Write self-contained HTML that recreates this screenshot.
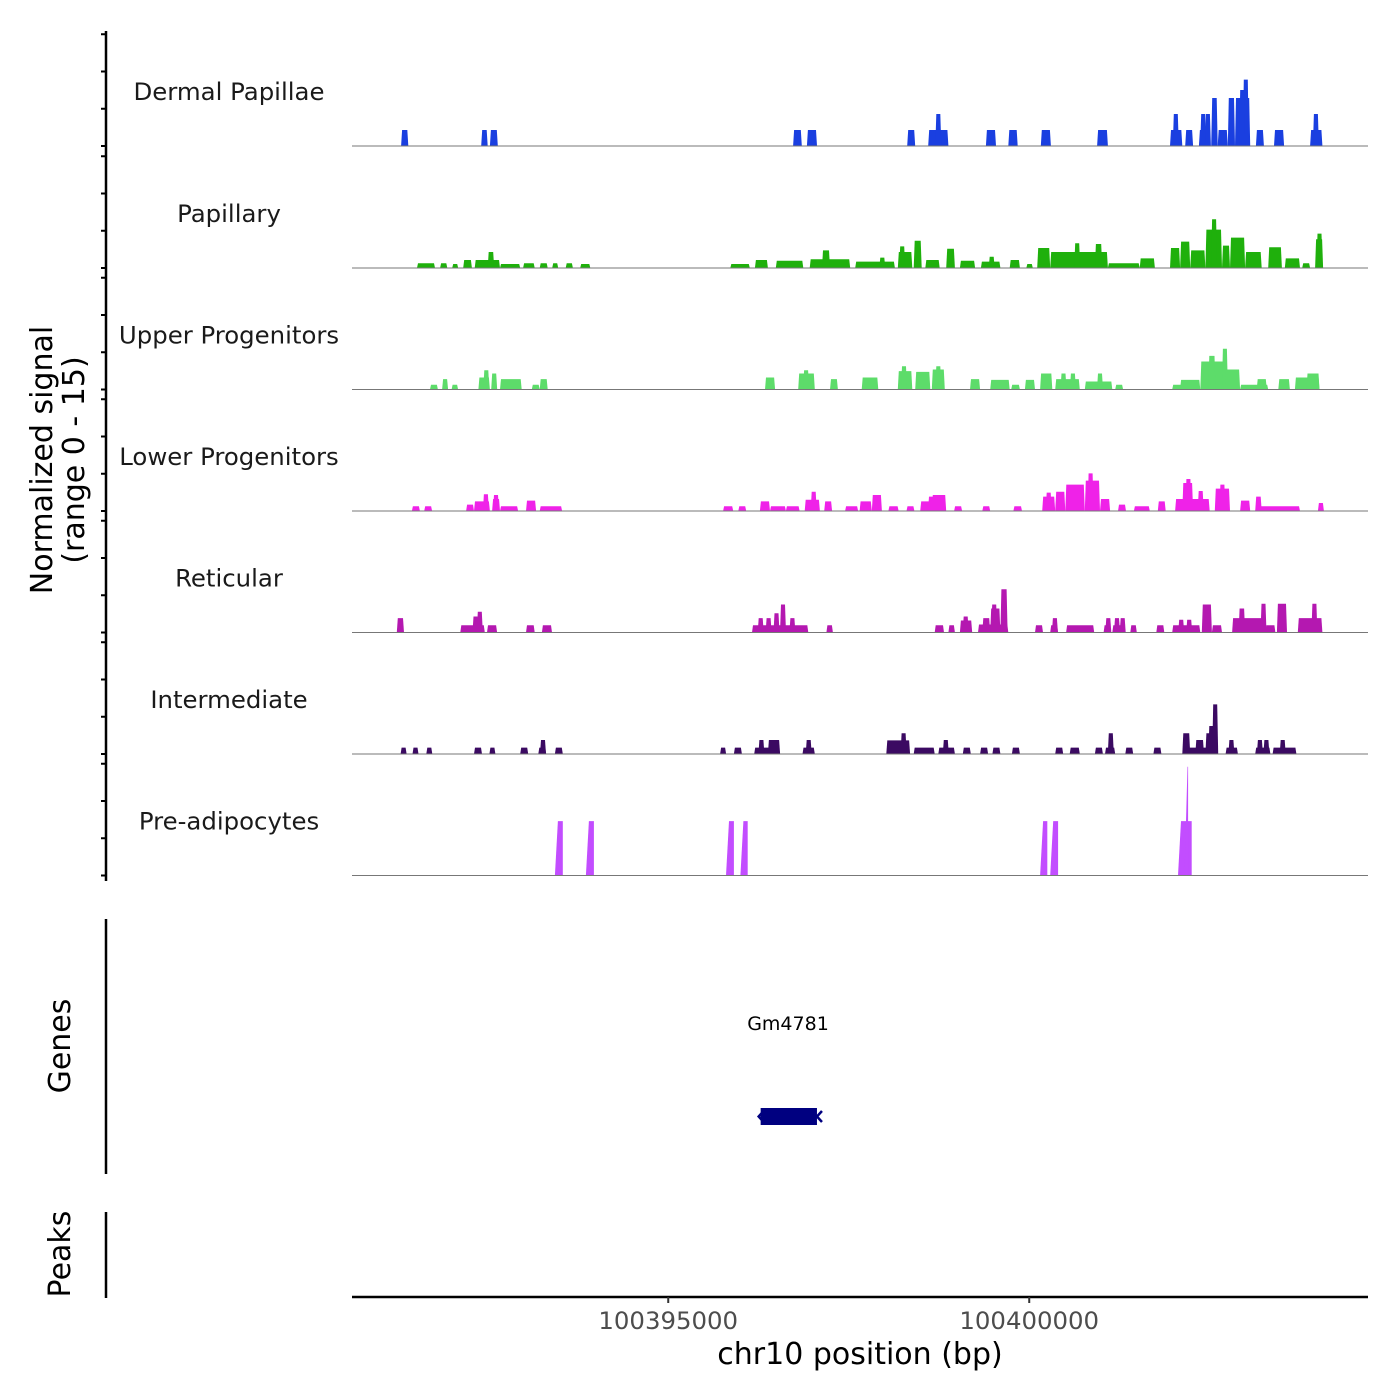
<!DOCTYPE html>
<html><head><meta charset="utf-8"><style>
html,body{margin:0;padding:0;background:#fff;}
svg{display:block;font-family:"DejaVu Sans","Liberation Sans",sans-serif;}
</style></head><body>
<svg id="chart" width="1400" height="1400" viewBox="0 0 1400 1400" xmlns="http://www.w3.org/2000/svg">
<g id="tracks"></g>
<g id="axes"></g>
</svg>
<script>
// ---- data (positions in kb, offset 100000 kb) ----
const trackNames = ["Dermal Papillae","Papillary","Upper Progenitors","Lower Progenitors","Reticular","Intermediate","Pre-adipocytes"];
const trackColors = ["#1a3fe0","#1fb00c","#5ddc6a","#ef22e8","#b418b0","#3b0a62","#c24dff"];
const xTickValues = [100395000, 100400000];
const xTickLabels = ["100395000","100400000"];
const dermalPapillae = [[391.30,391.40,2],[392.41,392.50,2],[392.53,392.64,2],[396.73,396.85,2],[396.92,397.06,2],[398.31,398.42,2],[398.60,398.88,2],[398.72,398.76,4],[399.40,399.54,2],[399.71,399.84,2],[400.16,400.30,2],[400.94,401.09,2],[401.95,402.12,2],[402.01,402.05,4],[402.16,402.27,2],[402.35,402.50,2],[402.39,402.43,4],[402.46,402.49,4],[402.52,402.61,6],[402.61,402.75,2],[402.75,402.85,6],[402.85,403.06,6],[402.98,403.02,8.3],[402.93,402.97,7],[403.14,403.25,2],[403.39,403.53,2],[403.89,404.06,2],[403.95,403.99,4]];
const papillary = [[391.52,391.77,0.6],[391.84,391.94,0.6],[392.01,392.09,0.5],[392.16,392.28,1.0],[392.32,392.67,1.0],[392.50,392.59,2.0],[392.67,392.95,0.5],[392.99,393.15,0.6],[393.22,393.33,0.6],[393.40,393.47,0.6],[393.58,393.68,0.6],[393.78,393.92,0.5],[395.86,396.13,0.5],[396.20,396.38,1.0],[396.49,396.87,0.9],[396.96,397.52,1.1],[397.13,397.24,2.2],[397.59,398.14,0.8],[397.93,398.00,1.3],[398.18,398.38,2.0],[398.21,398.27,2.7],[398.40,398.51,3.4],[398.56,398.76,1.0],[398.85,398.97,2.4],[399.04,399.25,0.9],[399.33,399.60,0.8],[399.46,399.50,1.4],[399.73,399.87,1.0],[399.96,400.05,0.5],[400.11,400.29,2.5],[400.29,401.09,2.0],[400.63,400.70,3.1],[400.91,401.01,3.0],[401.09,401.53,0.6],[401.53,401.74,1.2],[401.95,402.09,2.5],[402.09,402.23,3.3],[402.23,402.44,2.2],[402.44,402.67,4.8],[402.53,402.59,6.1],[402.67,402.78,2.8],[402.78,402.99,3.8],[402.99,403.22,2.0],[403.31,403.50,2.6],[403.54,403.75,1.2],[403.78,403.89,0.6],[403.96,404.07,3.6],[404.00,404.04,4.3]];
const upperProgenitors = [[391.70,391.81,0.6],[391.87,391.95,1.3],[392.00,392.09,0.6],[392.37,392.53,1.5],[392.44,392.52,2.4],[392.55,392.63,2.0],[392.67,392.97,1.3],[393.11,393.22,0.6],[393.22,393.33,1.3],[396.34,396.48,1.5],[396.80,397.03,2.0],[396.88,396.94,2.4],[397.24,397.35,1.3],[397.68,397.91,1.5],[398.18,398.38,2.3],[398.24,398.29,2.9],[398.42,398.63,2.2],[398.65,398.83,2.5],[398.72,398.76,2.9],[399.18,399.32,1.3],[399.46,399.73,1.2],[399.75,399.87,0.6],[399.94,400.08,1.2],[400.15,400.32,2.0],[400.36,400.70,1.3],[400.45,400.50,2.0],[400.58,400.63,2.0],[400.77,401.15,1.0],[400.95,401.01,2.0],[401.19,401.30,0.6],[401.98,402.16,0.6],[402.09,402.37,1.2],[402.37,402.71,3.5],[402.48,402.58,4.2],[402.67,402.75,5.1],[402.71,402.92,2.5],[402.92,403.31,0.6],[403.15,403.29,1.3],[403.45,403.61,1.3],[403.68,404.02,1.5],[403.84,404.02,2.0]];
const lowerProgenitors = [[391.45,391.56,0.6],[391.62,391.73,0.6],[392.20,392.31,0.8],[392.31,392.53,1.2],[392.45,392.50,2.1],[392.56,392.67,1.5],[392.60,392.63,2.0],[392.67,392.92,0.6],[393.03,393.17,1.3],[393.22,393.53,0.6],[395.76,395.90,0.6],[395.97,396.08,0.6],[396.27,396.41,1.2],[396.41,396.63,0.6],[396.63,396.82,0.6],[396.89,397.10,1.4],[396.99,397.04,2.4],[397.16,397.27,1.2],[397.45,397.63,0.6],[397.65,397.82,1.2],[397.82,397.96,2.0],[398.05,398.19,0.6],[398.30,398.41,0.6],[398.49,398.70,1.2],[398.62,398.66,1.8],[398.65,398.85,2.0],[398.96,399.07,0.6],[399.35,399.46,0.6],[399.78,399.90,0.6],[400.18,400.36,1.8],[400.25,400.29,2.3],[400.36,400.50,2.4],[400.50,400.77,3.3],[400.77,400.98,3.8],[400.82,400.88,4.7],[400.98,401.12,1.5],[401.23,401.34,0.8],[401.45,401.67,0.6],[401.78,401.89,1.2],[402.02,402.50,1.5],[402.12,402.27,3.5],[402.19,402.22,4.0],[402.35,402.40,2.5],[402.57,402.78,2.8],[402.65,402.70,3.3],[402.92,403.06,1.3],[403.13,403.22,1.8],[403.13,403.75,0.6],[404.00,404.08,1.0]];
const reticular = [[391.24,391.34,1.8],[392.12,392.46,0.9],[392.30,392.36,2.0],[392.36,392.42,2.6],[392.49,392.63,0.9],[393.03,393.15,0.9],[393.25,393.39,0.9],[396.16,396.94,0.9],[396.26,396.30,1.8],[396.37,396.41,1.8],[396.48,396.52,2.4],[396.56,396.62,3.5],[396.70,396.74,1.8],[397.19,397.28,0.9],[398.69,398.82,0.9],[398.88,398.97,0.9],[399.04,399.21,1.5],[399.10,399.14,2.0],[399.29,399.71,1.0],[399.35,399.46,1.8],[399.46,399.60,3.0],[399.50,399.53,3.5],[399.60,399.70,5.4],[400.08,400.19,0.9],[400.29,400.40,0.9],[400.34,400.37,1.8],[400.51,400.90,0.9],[401.03,401.12,0.9],[401.08,401.11,1.8],[401.15,401.33,0.9],[401.20,401.23,1.8],[401.28,401.31,1.8],[401.40,401.49,0.9],[401.76,401.87,0.9],[401.98,402.37,0.9],[402.09,402.12,1.6],[402.20,402.23,1.6],[402.39,402.53,3.5],[402.53,402.67,0.9],[402.81,403.27,1.8],[402.90,402.99,3.0],[403.22,403.27,3.6],[403.27,403.41,0.9],[403.43,403.57,3.6],[403.72,404.06,1.8],[403.91,403.99,3.6]];
const intermediate = [[391.30,391.37,0.8],[391.46,391.54,0.8],[391.65,391.73,0.8],[392.31,392.42,0.8],[392.53,392.60,0.8],[392.95,393.06,0.8],[393.20,393.31,0.8],[393.25,393.28,1.75],[393.43,393.54,0.8],[395.72,395.80,0.8],[395.91,396.02,0.8],[396.19,396.55,0.8],[396.25,396.33,1.75],[396.38,396.55,1.75],[396.86,397.03,0.8],[396.92,396.97,1.75],[398.02,398.35,1.7],[398.22,398.30,2.6],[398.40,398.69,0.8],[398.74,398.97,0.8],[398.82,398.87,1.75],[399.08,399.19,0.8],[399.32,399.43,0.8],[399.49,399.60,0.8],[399.76,399.87,0.8],[400.36,400.47,0.8],[400.56,400.70,0.8],[400.91,401.02,0.8],[401.05,401.19,0.8],[401.11,401.15,2.6],[401.33,401.44,0.8],[401.72,401.83,0.8],[402.12,402.61,0.8],[402.12,402.23,2.6],[402.30,402.42,1.75],[402.44,402.61,2.6],[402.48,402.61,3.5],[402.56,402.59,6.2],[402.72,402.89,0.8],[402.78,402.82,1.75],[403.13,403.34,0.8],[403.17,403.22,1.75],[403.26,403.31,1.75],[403.37,403.70,0.8],[403.48,403.54,1.75]];
const preAdipocytes = [[393.43,393.54,6.8],[393.86,393.97,6.8],[395.80,395.91,6.8],[396.00,396.10,6.8],[400.15,400.25,6.8],[400.29,400.40,6.8],[402.06,402.25,6.8],[402.15,402.20,13.6]];
const trackData = [dermalPapillae, papillary, upperProgenitors, lowerProgenitors, reticular, intermediate, preAdipocytes];

// ---- scales ----
const KB_OFFSET = 100000;
const X0 = 352, X1 = 1368, DOM0 = 390.62, PX_PER_KB = 72.2;
function xScale(kb){ return X0 + (kb - DOM0) * PX_PER_KB; }
const baselines = [146, 268, 389.5, 511, 632.5, 754, 875.5];
const UNIT = 8.0;
function yScale(track, v){ return baselines[track] - v * UNIT; }

const NS = "http://www.w3.org/2000/svg";
function mk(tag, attrs, parent){ const e=document.createElementNS(NS,tag); for(const k in attrs) e.setAttribute(k,attrs[k]); parent.appendChild(e); return e; }
const tracksG = document.getElementById('tracks');
const axesG = document.getElementById('axes');

trackData.forEach((segs, t) => {
  const g = mk('g', {}, tracksG);
  
  
  const lbl = mk('text', {x:229, y:baselines[t]-46, 'text-anchor':'middle', 'font-size':24.4, fill:'#1a1a1a'}, g);
  lbl.textContent = trackNames[t];
  
  
  const slant = t === 6 ? 3 : 1;
  segs.forEach(s => {
    let xa = xScale(s[0]), xb = xScale(s[1]);
    if (t !== 6 && xb - xa < 6) { const c = (xa + xb) / 2; xa = c - 3; xb = c + 3; }
    const base = baselines[t], top = yScale(t, s[2]);
    const pts = [[xa, base],[xa+slant, top],[xb-(t===6?0:slant), top],[xb, base]];
    const p = mk('polygon', {points: pts.map(q=>q[0].toFixed(1)+','+q[1].toFixed(1)).join(' '), fill: trackColors[t]}, g);
    
    
  });
  const bl = mk('line', {x1:X0, x2:X1, y1:baselines[t], y2:baselines[t], stroke:'#777', 'stroke-width':1}, g);
  
  
});

// left signal axis
const ax = mk('line', {x1:106, x2:106, y1:31, y2:881, stroke:'#000', 'stroke-width':2.5}, axesG);


const tickVals = [0,5,10,15];
const TICK_UNIT = 7.45;
baselines.forEach(b => {
  tickVals.forEach(v => {
    const y = b - v * TICK_UNIT;
    const tk = mk('line', {x1:101, x2:106, y1:y, y2:y, stroke:'#000', 'stroke-width':2}, axesG);
    
    
  });
});
const yt = mk('text', {transform:'translate(52,460) rotate(-90)', 'text-anchor':'middle', 'font-size':30, fill:'#000'}, axesG);


yt.innerHTML = '<tspan x="0" dy="0">Normalized signal</tspan><tspan x="0" dy="32">(range 0 - 15)</tspan>';

// genes panel
const ga = mk('line', {x1:106, x2:106, y1:919, y2:1174, stroke:'#000', 'stroke-width':2.5}, axesG);


const gt = mk('text', {transform:'translate(70,1046) rotate(-90)', 'text-anchor':'middle', 'font-size':30, fill:'#000'}, axesG);
gt.textContent = 'Genes';


const geneStartKb = 396.28, geneEndKb = 397.06;
const gr = mk('rect', {x:xScale(geneStartKb), y:1108, width:xScale(geneEndKb)-xScale(geneStartKb), height:17, fill:'#000080'}, axesG);


const gc = mk('path', {d:'M'+(xScale(geneStartKb)+3)+',1111 L'+(xScale(geneStartKb)-2)+',1116.5 L'+(xScale(geneStartKb)+3)+',1122 M'+(xScale(geneEndKb)+5)+',1111 L'+(xScale(geneEndKb))+',1116.5 L'+(xScale(geneEndKb)+5)+',1122', stroke:'#000080', 'stroke-width':2.5, fill:'none'}, axesG);


const gl = mk('text', {x:788, y:1030, 'text-anchor':'middle', 'font-size':19, fill:'#000'}, axesG);
gl.textContent = 'Gm4781';



// peaks panel
const pa = mk('line', {x1:106, x2:106, y1:1212, y2:1298, stroke:'#000', 'stroke-width':2.5}, axesG);


const pt = mk('text', {transform:'translate(70,1254) rotate(-90)', 'text-anchor':'middle', 'font-size':30, fill:'#000'}, axesG);
pt.textContent = 'Peaks';



// x axis
const xa = mk('line', {x1:X0, x2:X1, y1:1297, y2:1297, stroke:'#000', 'stroke-width':2.5}, axesG);


xTickValues.forEach((v,i) => {
  const x = xScale(v/1000 - KB_OFFSET);
  const tk = mk('line', {x1:x, x2:x, y1:1297, y2:1303, stroke:'#333', 'stroke-width':2}, axesG);
  
  
  const tl = mk('text', {x:x, y:1329, 'text-anchor':'middle', 'font-size':24.4, fill:'#4d4d4d'}, axesG);
  tl.textContent = xTickLabels[i];
  
  
});
const xt = mk('text', {x:860, y:1364, 'text-anchor':'middle', 'font-size':30, fill:'#000'}, axesG);
xt.textContent = 'chr10 position (bp)';


</script>
</body></html>
